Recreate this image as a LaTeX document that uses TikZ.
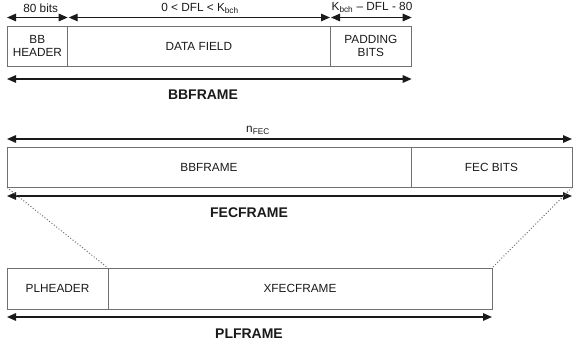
\documentclass[tikz,border=0pt]{standalone}
\usepackage{fontspec}
\setmainfont{Liberation Sans}
\usetikzlibrary{arrows.meta}
\definecolor{boxgray}{HTML}{707070}
\definecolor{arrowc}{HTML}{1A1A1A}
\definecolor{txtc}{HTML}{1A1A1A}
\begin{document}
\begin{tikzpicture}[x=1pt,y=-1pt,
  field/.style={draw=boxgray,line width=0.9pt,inner sep=0pt,outer sep=0pt,anchor=north west,
    align=center,text=txtc,font=\fontsize{11.8}{13}\selectfont},
  dim/.style={draw=arrowc,line width=1.4pt,{Triangle[length=9pt,width=7.5pt]}-{Triangle[length=9pt,width=7.5pt]}},
  lbl/.style={text=txtc,inner sep=0pt,font=\fontsize{11.8}{13}\selectfont},
  big/.style={text=txtc,inner sep=0pt,font=\fontsize{14}{16}\bfseries\selectfont},
  guide/.style={draw=boxgray,line width=1pt,dotted}]
\useasboundingbox (0,0) rectangle (573,349);
% BBFRAME row
\node[field,minimum width=60.7pt,minimum height=40pt] (bbh) at (7,26) {BB\\HEADER};
\node[field,minimum width=262.3pt,minimum height=40pt] (data) at (bbh.north east) {DATA FIELD};
\node[field,minimum width=81.7pt,minimum height=40pt] (pad) at (data.north east) {PADDING\\BITS};
\coordinate (t0) at (7,17.5);
\coordinate (t1) at (67.7,17.5);
\coordinate (t2) at (330,17.5);
\coordinate (t3) at (411.7,17.5);
\draw[dim] (t0) -- (t1);
\draw[dim] (t1) ++(1,0) coordinate (t1b) -- (t2);
\draw[dim] (t2) ++(1,0) coordinate (t2b) -- (t3);
\node[lbl] (l80) at (40.7,8.5) {80 bits};
\node[lbl] (ldfl) at (200,8.5) {0 < DFL < K\textsubscript{bch}};
\node[lbl] (lpad) at (372,7.5) {K\textsubscript{bch} – DFL - 80};
\coordinate (b0) at (7,79);
\coordinate (b1) at (411.7,79);
\draw[dim] (b0) -- (b1);
\node[big] (lbb) at (203,95) {BBFRAME};
% FECFRAME row
\node[field,minimum width=404pt,minimum height=40.5pt] (bbf) at (7,147) {BBFRAME};
\node[field,minimum width=161pt,minimum height=40.5pt] (fecb) at (bbf.north east) {FEC BITS};
\coordinate (n0) at (7,139);
\coordinate (n1) at (572,139);
\draw[dim] (n0) -- (n1);
\node[lbl] (lnfec) at (258,130) {n\textsubscript{FEC}};
\coordinate (f0) at (7,196);
\coordinate (f1) at (572,196);
\draw[dim] (f0) -- (f1);
\node[big] (lfec) at (249,213) {FECFRAME};
% PLFRAME row
\node[field,minimum width=101pt,minimum height=41pt] (plh) at (7,268) {PLHEADER};
\node[field,minimum width=384pt,minimum height=41pt] (xfec) at (plh.north east) {XFECFRAME};
\coordinate (p0) at (7,317);
\coordinate (p1) at (492,317);
\draw[dim] (p0) -- (p1);
\node[big] (lpl) at (249,334) {PLFRAME};
% guide lines
\draw[guide] (bbf.south west) -- (plh.north east);
\draw[guide] (fecb.south east) -- (xfec.north east);
\end{tikzpicture}
\end{document}
